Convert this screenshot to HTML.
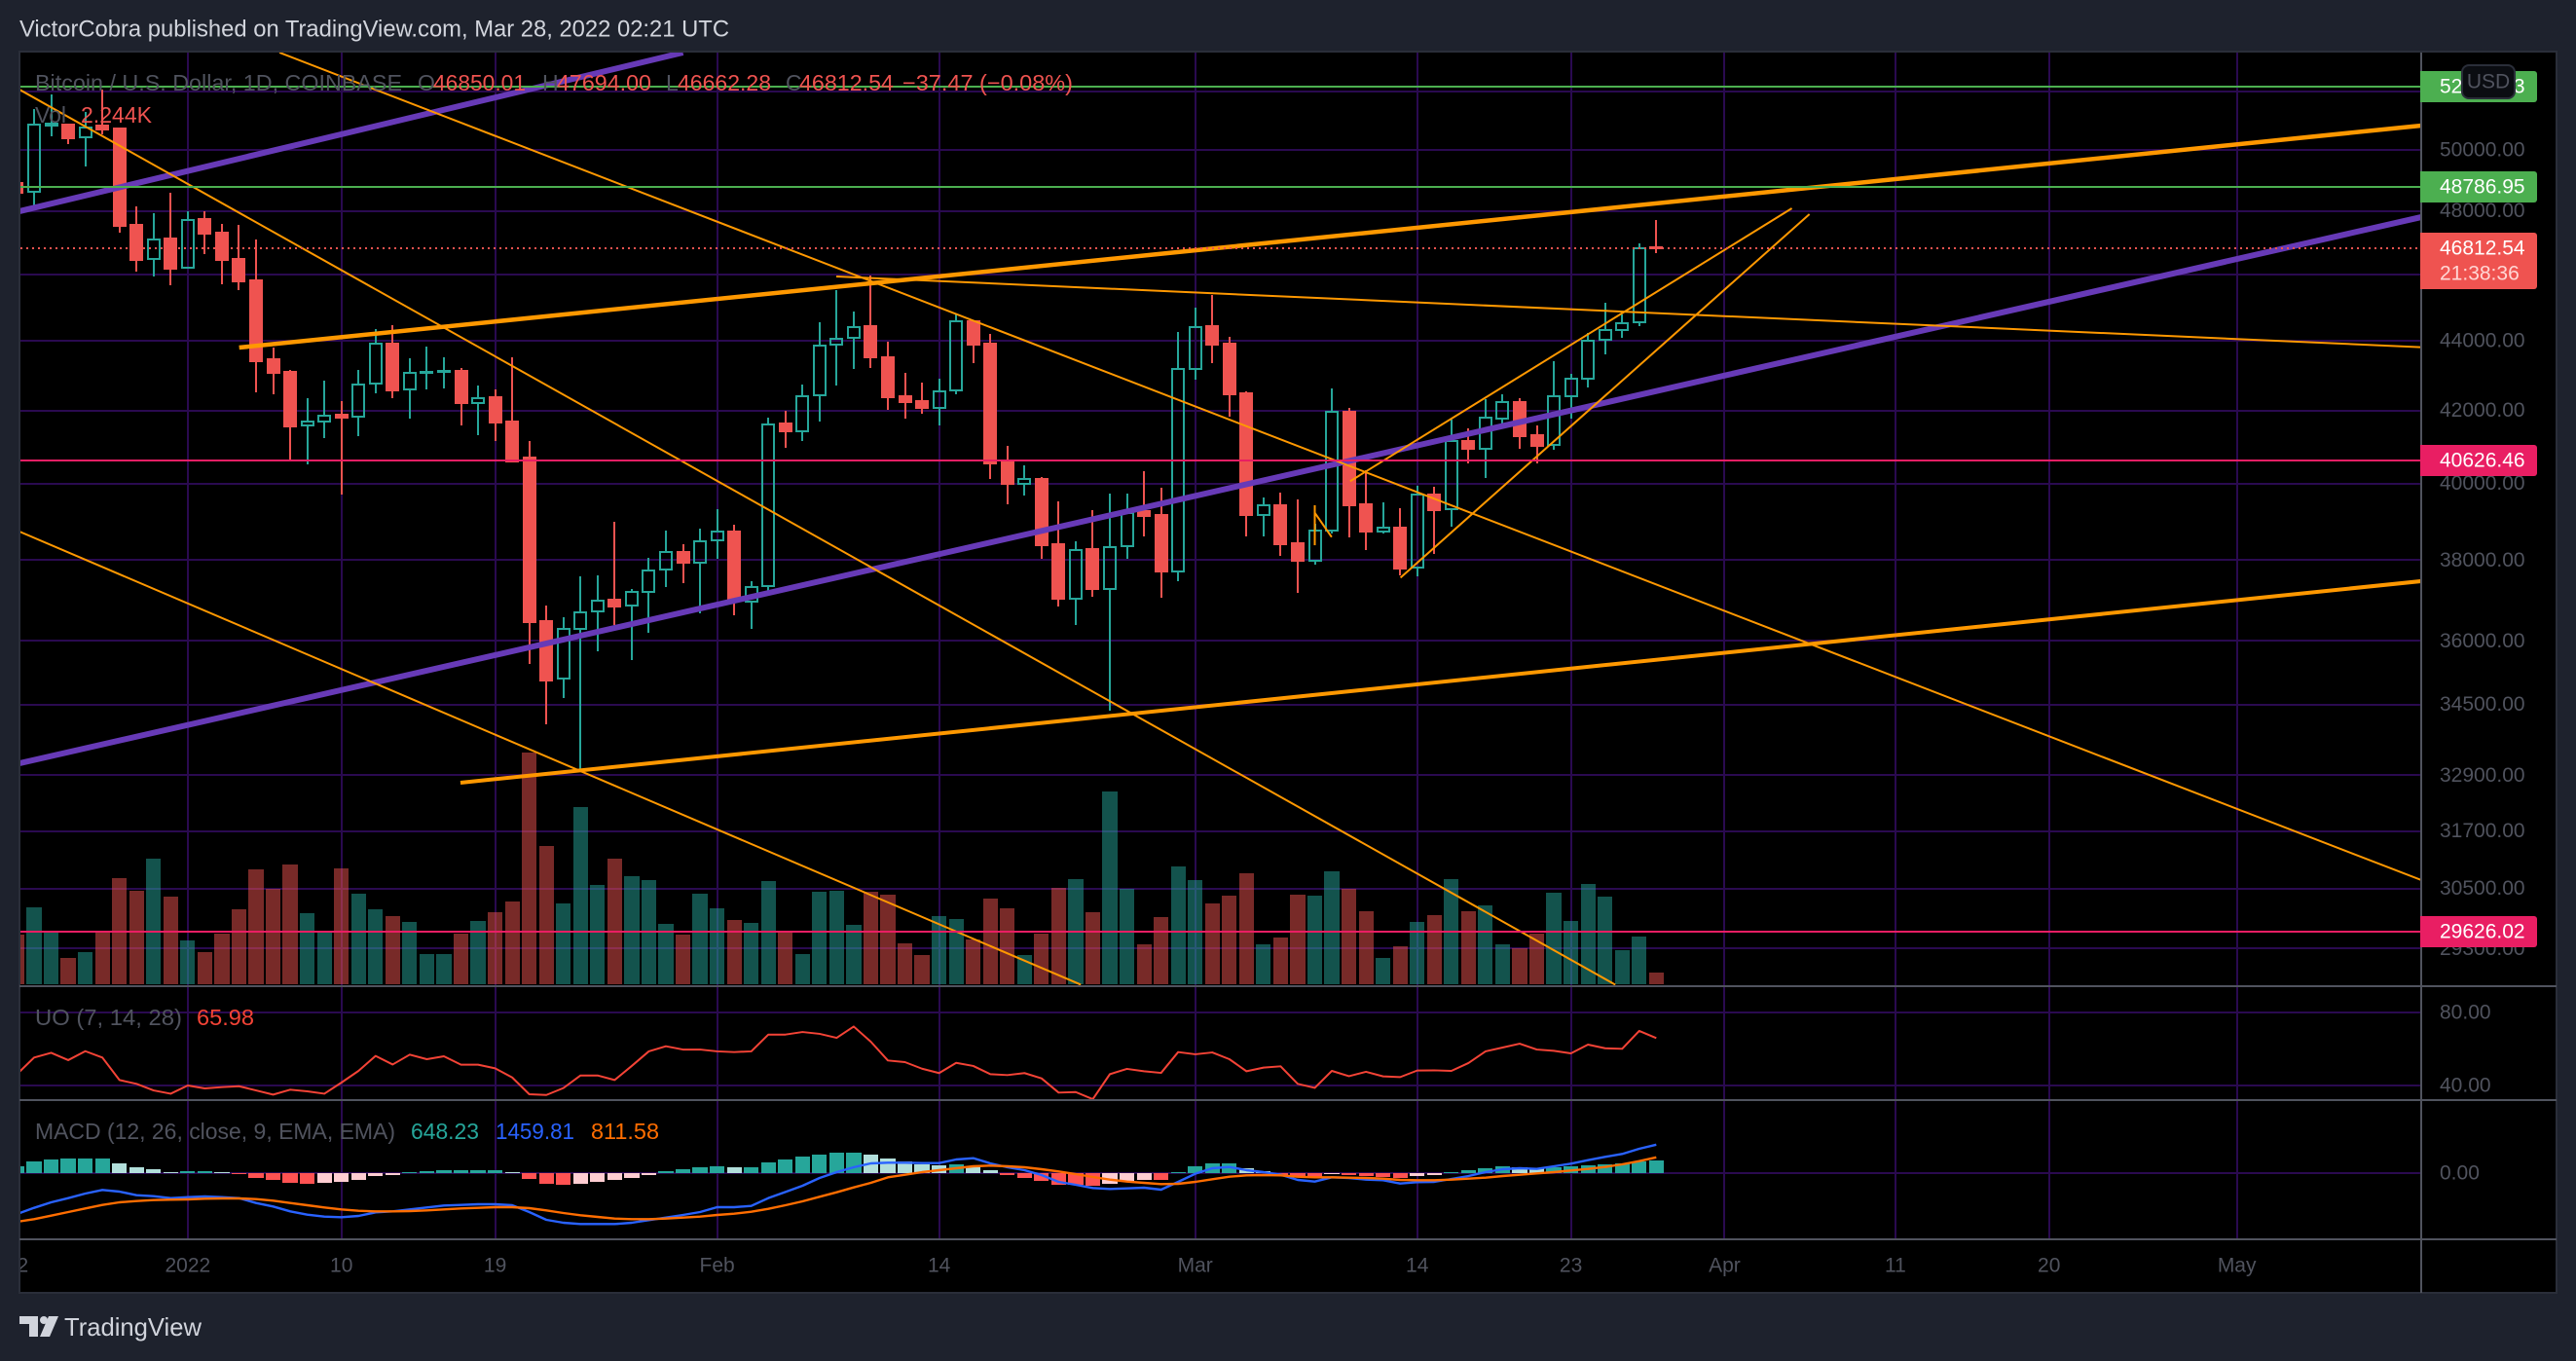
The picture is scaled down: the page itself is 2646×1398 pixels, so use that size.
<!DOCTYPE html>
<html lang="en">
<head>
<meta charset="utf-8">
<title>BTC/USD chart</title>
<style>
html,body{margin:0;padding:0;background:#1e222d;width:2646px;height:1398px;overflow:hidden}
svg{display:block}
text{font-family:"Liberation Sans",sans-serif;dominant-baseline:central}
.tick{font-size:21px;fill:#50535e}
.leg{font-size:23px;fill:#50535e}
</style>
</head>
<body>
<svg id="chart" xmlns="http://www.w3.org/2000/svg" width="2646" height="1398" viewBox="0 0 2646 1398">
  <defs>
    <clipPath id="main-clip"><rect x="21" y="54" width="2465" height="958"></rect></clipPath>
    <clipPath id="uo-clip"><rect x="21" y="1014" width="2465" height="115"></rect></clipPath>
    <clipPath id="macd-clip"><rect x="21" y="1131" width="2465" height="141"></rect></clipPath>
    <clipPath id="time-clip"><rect x="21" y="1274" width="2465" height="54"></rect></clipPath>
  </defs>
  <rect x="0" y="0" width="2646" height="1398" fill="#1e222d"></rect>
  <text x="20" y="30" font-size="24" fill="#d1d4dc" textLength="729" lengthAdjust="spacingAndGlyphs">VictorCobra published on TradingView.com, Mar 28, 2022 02:21 UTC</text>
  <rect x="20" y="53" width="2606" height="1275" fill="#000" stroke="#2a2e39" stroke-width="2"></rect>
  <g id="grid"></g>
  <g id="volume" clip-path="url(#main-clip)"></g>
  <g id="candles" clip-path="url(#main-clip)"></g>
  <g id="drawings" clip-path="url(#main-clip)"></g>
  <g id="uo" clip-path="url(#uo-clip)"></g>
  <g id="macd" clip-path="url(#macd-clip)"></g>
  <g id="separators">
    <rect x="20" y="1012" width="2606" height="2" fill="#50535e"></rect>
    <rect x="20" y="1129" width="2606" height="2" fill="#50535e"></rect>
    <rect x="20" y="1272" width="2606" height="2" fill="#50535e"></rect>
    <rect x="2486" y="54" width="2" height="1274" fill="#50535e"></rect>
  </g>
  <g id="axis-labels"></g>
  <g id="price-tags"></g>
  <g>
    <rect x="2529" y="67" width="54" height="34" rx="7" fill="#0b0d12" stroke="#2a2e39" stroke-width="2"></rect>
    <text x="2556" y="84" font-size="21" fill="#50535e" text-anchor="middle">USD</text>
  </g>
  <g>
    <text class="leg" x="36" y="85" textLength="377" lengthAdjust="spacingAndGlyphs">Bitcoin / U.S. Dollar, 1D, COINBASE</text>
    <text class="leg" x="429" y="85">O</text>
    <text class="leg" x="445" y="85" style="fill:#ef5350" textLength="95" lengthAdjust="spacingAndGlyphs">46850.01</text>
    <text class="leg" x="557" y="85">H</text>
    <text class="leg" x="572" y="85" style="fill:#ef5350" textLength="97" lengthAdjust="spacingAndGlyphs">47694.00</text>
    <text class="leg" x="684" y="85">L</text>
    <text class="leg" x="696" y="85" style="fill:#ef5350" textLength="96" lengthAdjust="spacingAndGlyphs">46662.28</text>
    <text class="leg" x="807" y="85">C</text>
    <text class="leg" x="821" y="85" style="fill:#ef5350" textLength="97" lengthAdjust="spacingAndGlyphs">46812.54</text>
    <text class="leg" x="927" y="85" style="fill:#ef5350" textLength="175" lengthAdjust="spacingAndGlyphs">−37.47 (−0.08%)</text>
    <text class="leg" x="36" y="118">Vol</text>
    <text class="leg" x="83" y="118" style="fill:#ef5350" textLength="73" lengthAdjust="spacingAndGlyphs">2.244K</text>
  </g>
  <g>
    <text class="leg" x="36" y="1045" textLength="151" lengthAdjust="spacingAndGlyphs">UO (7, 14, 28)</text>
    <text class="leg" x="202" y="1045" style="fill:#f44336" textLength="59" lengthAdjust="spacingAndGlyphs">65.98</text>
  </g>
  <g>
    <text class="leg" x="36" y="1162" textLength="370" lengthAdjust="spacingAndGlyphs">MACD (12, 26, close, 9, EMA, EMA)</text>
    <text class="leg" x="422" y="1162" style="fill:#26a69a" textLength="70" lengthAdjust="spacingAndGlyphs">648.23</text>
    <text class="leg" x="509" y="1162" style="fill:#2962ff" textLength="81" lengthAdjust="spacingAndGlyphs">1459.81</text>
    <text class="leg" x="607" y="1162" style="fill:#ff6d00" textLength="70" lengthAdjust="spacingAndGlyphs">811.58</text>
  </g>
  <g>
    <polygon points="20,1352 39,1352 39,1373 30,1373 30,1360 20,1360" fill="#d1d4dc"></polygon>
    <circle cx="45" cy="1356" r="4" fill="#d1d4dc"></circle>
    <polygon points="50,1352 60,1352 51,1373 41,1373" fill="#d1d4dc"></polygon>
    <text x="66" y="1363" font-size="26" fill="#d1d4dc" textLength="141" lengthAdjust="spacingAndGlyphs">TradingView</text>
  </g>
</svg>
<script>
// Bars run from Dec 22 2021 (cut by the left edge) to Mar 28 2022, one per day.
const opens = [48900,
48620,50830,50860,50430,50830,50730,47560,46490,47130,46220,
47750,47310,46490,45830,43470,43110,41590,41700,41890,41830,
42770,43920,42600,43080,43110,43130,42210,42380,41700,40700,
36480,35110,36290,36720,37010,36870,37200,37760,38210,37940,
38510,38730,36960,37340,41640,41420,42430,43890,44100,44450,
43530,42400,42270,42080,42570,44590,43920,40570,39990,40120,
38410,37030,38280,37270,38360,39270,39170,37710,43190,44450,
43920,42490,39170,39420,38430,37990,38760,41970,39450,38730,
38840,37810,39700,39320,41150,40940,41780,42240,41320,41050,
42400,42910,44040,44330,44560,46850.01];
const highs = [48950,
51390,51900,50860,51270,52060,50730,48150,47930,48590,47990,
47990,47590,47560,47100,43810,43160,42350,42850,42270,43160,
44360,44470,43500,43840,43530,43220,42710,42600,43530,41150,
36870,36580,37590,37620,38990,37270,38060,38760,38410,38810,
39320,38910,37470,41810,42000,42740,44560,45530,44880,45980,
43980,43080,42800,42910,44790,44590,44210,41020,40490,40170,
39530,38480,39300,39730,39730,40330,39880,44270,45000,45380,
44120,42540,39630,39760,39580,38940,42630,42080,40360,39500,
39350,39940,39910,41750,41510,42320,42460,42350,41590,43410,
43050,44240,45140,44790,46970,47694.00];
const lows = [48500,
48090,50460,50200,49460,50530,47310,46100,45950,45680,46220,
46640,45710,45530,42520,42460,40620,40520,41230,39700,41290,
42490,42350,41780,42600,42630,41590,41320,41150,40570,35450,
34050,34650,33040,35750,36390,35550,36200,37320,37420,36670,
38040,36630,36290,37130,40960,41150,41700,42710,43190,43220,
42020,41780,41910,41590,42460,43360,40120,39450,39680,38040,
36840,36390,37080,34360,38040,38610,37060,37470,42880,43360,
41830,38610,38610,38110,37180,37890,38680,38580,38260,38680,
37620,37590,38160,38860,40540,40150,41640,40940,40540,40910,
41780,42660,43610,44100,44450,46662.28];
const closes = [48590,
50860,50890,50400,50760,50700,47530,46460,47100,46190,47720,
47280,46460,45800,43410,43080,41560,41700,41860,41810,42740,
43920,42570,43080,43110,43130,42210,42350,41670,40600,36460,
35060,36290,36700,36980,36840,37200,37740,38210,37940,38480,
38730,37030,37320,41610,41420,42400,43860,44070,44420,43530,
42380,42240,42080,42540,44590,43890,40540,39990,40120,38380,
37030,38260,37270,38330,39220,39140,37710,43190,44420,43890,
42460,39170,39420,38410,37990,38760,41970,39420,38730,38840,
37790,39700,39300,41150,40940,41810,42240,41290,41020,42400,
42910,44010,44330,44530,46820,46812.54];
const volumes = [9.6,
14.8,10.1,5.1,6.2,10.1,20.4,18.0,24.2,16.8,8.4,
6.2,9.7,14.4,22.1,18.4,23.0,13.7,10.0,22.3,17.4,
14.4,13.1,12.0,5.8,5.8,9.7,12.2,13.8,15.9,44.5,
26.5,15.5,34.1,19.1,24.2,20.7,20.0,11.6,9.5,17.4,
14.6,12.4,11.8,19.8,10.0,5.8,17.8,18.0,11.4,17.8,
17.2,7.9,5.6,13.1,12.5,8.6,16.4,14.6,5.6,9.7,
18.5,20.2,13.8,37.0,18.3,7.7,12.9,22.6,20.0,15.5,
17.0,21.3,7.7,9.0,17.2,17.0,21.7,18.3,14.0,5.0,
7.3,12.0,13.3,20.2,14.0,15.1,7.7,6.9,9.7,17.6,
12.1,19.3,16.8,6.5,9.2,2.244];
const uoValues = [46.2,
55.3,57.9,53.9,58.8,55.3,43.0,40.9,37.3,35.5,40.0,
38.4,39.1,39.6,37.3,35.0,37.7,36.8,35.5,41.6,48.0,
56.2,51.5,56.9,54.4,56.0,51.4,51.4,49.4,44.4,35.2,
34.8,38.6,45.5,45.5,43.0,50.7,58.7,61.5,59.7,59.7,
58.7,58.3,58.7,67.9,67.9,69.3,68.3,66.1,72.3,64.0,
53.7,52.8,49.2,46.8,52.4,50.7,46.2,45.7,46.8,43.9,
36.1,36.4,32.5,46.2,49.1,47.8,46.9,58.3,57.1,58.1,
54.4,47.8,49.8,50.5,40.9,38.7,48.0,45.1,47.5,45.0,
44.6,48.2,48.3,48.0,52.3,58.7,60.8,62.9,59.7,59.0,
57.6,62.4,60.4,60.1,69.9,65.98];
const macdLine = [-2100,
-1784,-1500,-1284,-1050,-867,-950,-1134,-1184,-1284,-1234,
-1200,-1234,-1284,-1534,-1717,-1967,-2134,-2234,-2267,-2200,
-2017,-1967,-1867,-1767,-1667,-1634,-1600,-1600,-1650,-2000,
-2400,-2550,-2617,-2617,-2617,-2550,-2417,-2284,-2150,-2000,
-1750,-1750,-1684,-1284,-967,-650,-250,50,300,500,
533,533,517,517,700,767,500,300,150,-100,
-450,-600,-767,-817,-784,-750,-850,-450,-33,250,
317,150,50,-83,-350,-433,-217,-250,-333,-367,
-533,-467,-450,-300,-150,50,200,250,217,350,
483,667,833,983,1250,1459.81];
const signalLine = [-2500,
-2367,-2184,-2000,-1817,-1634,-1500,-1434,-1384,-1367,-1350,
-1317,-1300,-1300,-1334,-1417,-1534,-1650,-1767,-1867,-1934,
-1967,-1967,-1950,-1917,-1867,-1817,-1784,-1750,-1750,-1800,
-1917,-2050,-2167,-2250,-2334,-2367,-2367,-2334,-2284,-2234,
-2150,-2084,-1984,-1834,-1650,-1450,-1217,-984,-734,-500,
-217,-83,50,150,250,350,383,350,300,200,
83,-50,-200,-333,-433,-500,-567,-550,-450,-317,
-183,-117,-100,-117,-183,-217,-217,-233,-250,-283,
-350,-367,-367,-333,-283,-233,-150,-83,-17,50,
133,217,317,450,617,811.58];
const macdHist = [333,
600,700,750,750,750,500,300,200,50,100,
100,50,-50,-250,-350,-500,-550,-500,-450,-350,
-150,-100,50,100,150,150,150,150,50,-300,
-550,-600,-550,-450,-350,-250,-100,100,200,300,
350,300,300,550,700,850,950,1050,1050,950,
750,600,450,400,450,300,150,-100,-250,-400,
-600,-600,-650,-550,-400,-350,-350,50,350,500,
500,250,100,-100,-150,-200,-50,-100,-150,-200,
-250,-150,-100,50,150,250,350,300,250,300,
350,400,450,500,600,648.23];

const priceGrid = [52000,50000,48000,46000,44000,42000,40000,38000,36000,34500,32900,31700,30500,29300];
const priceLabels = ['52000.00','50000.00','48000.00','46000.00','44000.00','42000.00','40000.00','38000.00','36000.00','34500.00','32900.00','31700.00','30500.00','29300.00'];
const uoTicks = [80,40];
const uoLabels = ['80.00','40.00'];
const macdTicks = [0];
const macdLabels = ['0.00'];
const timeBars = [-1,9,18,27,40,53,68,81,90,99,109,118,129];
const timeLabels = ['22','2022','10','19','Feb','14','Mar','14','23','Apr','11','20','May'];

// Trend lines: start bar, start price, end bar, end price.
const trendLineNames = ['purple-channel-upper','purple-channel-main','orange-support-upper','orange-support-lower','orange-downtrend-a','orange-downtrend-b','orange-downtrend-c','orange-flat','orange-wedge-upper','orange-wedge-lower','orange-small-diagonal','orange-small-vertical'];
const trendStartBar = [-0.855,-0.855,12.01,24.97,-0.855,14.37,-0.855,46.98,77.07,80.02,75,75];
const trendStartPrice = [47990,33168,43806,32739,52061,53366,38731,45940,40058,37555,39221,39419];
const trendEndBar = [38,139.8,139.8,139.8,92.6,139.8,61.3,139.8,102.94,103.97,75.99,75];
const trendEndPrice = [53366,47802,50821,37467,28600,30674,28600,43815,48083,47896,38588,38378];
const trendColor = ['#673ab7','#673ab7','#ff9800','#ff9800','#ff9800','#ff9800','#ff9800','#ff9800','#ff9800','#ff9800','#ff9800','#ff9800'];
const trendThick = [6,6,4.5,4,2,2,2,2,2,2,2,2];

const levelPrices = [52163.13,48786.95,40626.46,29626.02];
const levelLabels = ['52163.13','48786.95','40626.46','29626.02'];
const levelColors = ['#4caf50','#4caf50','#e91e63','#e91e63'];
const lastPrice = 46812.54;
const lastPriceLabel = '46812.54';
const countdownLabel = '21:38:36';

const NS = 'http://www.w3.org/2000/svg';
const UP = '#26a69a', DOWN = '#ef5350', GRID = '#2a0a50';
const barX = i => 35 + 17.54 * i;
const priceY = p => 154 + 1535 * Math.log(50000 / p);
const volY = v => 1011 - v / 0.187;
const uoY = v => 1040 + (80 - v) * 1.875;
const macdY = v => 1205 - v / 50;

function make(parent, tag, attrs, text) {
  const node = document.createElementNS(NS, tag);
  for (const k in attrs) node.setAttribute(k, attrs[k]);
  if (text !== undefined) node.textContent = text;
  parent.appendChild(node);
  return node;
}
const g = id => document.getElementById(id);
const snap = Math.round;
let el;

// Grid
priceGrid.forEach(p => {
  el = make(g('grid'), 'rect', {x: 21, y: snap(priceY(p)) - 1, width: 2465, height: 2, fill: GRID});
  
  
});
uoTicks.forEach(v => {
  el = make(g('grid'), 'rect', {x: 21, y: snap(uoY(v)) - 1, width: 2465, height: 2, fill: GRID});
  
  
});
macdTicks.forEach(v => {
  el = make(g('grid'), 'rect', {x: 21, y: snap(macdY(v)) - 1, width: 2465, height: 2, fill: GRID});
  
  
});
timeBars.forEach(b => {
  if (barX(b) < 21) return;
  el = make(g('grid'), 'rect', {x: snap(barX(b)) - 1, y: 54, width: 2, height: 1218, fill: GRID});
  
  
});

// Volume and candles (array index 0 is bar -1)
closes.forEach((c, k) => {
  const i = k - 1, fx = barX(i), x = snap(fx), up = c >= opens[k];
  const vLeft = snap(fx - 7.6), vRight = snap(fx + 7.6), vTop = snap(volY(volumes[k]));
  el = make(g('volume'), 'rect', {x: vLeft, y: vTop, width: vRight - vLeft, height: 1011 - vTop, fill: up ? UP : DOWN, 'fill-opacity': 0.5});
  
  

  const top = snap(priceY(Math.max(opens[k], c))), bot = snap(priceY(Math.min(opens[k], c)));
  const hi = snap(priceY(highs[k])), lo = snap(priceY(lows[k]));
  const col = up ? UP : DOWN;
  el = make(g('candles'), 'rect', {x: x - 1, y: hi, width: 2, height: Math.max(0, top - hi), fill: col});
  
  
  el = make(g('candles'), 'rect', {x: x - 1, y: bot, width: 2, height: Math.max(0, lo - bot), fill: col});
  
  
  if (up) {
    el = make(g('candles'), 'rect', {x: x - 6, y: top, width: 12, height: Math.max(bot - top, 1), fill: 'none', stroke: col, 'stroke-width': 2});
  } else {
    el = make(g('candles'), 'rect', {x: x - 7, y: top - 1, width: 14, height: Math.max(bot - top + 2, 2), fill: col});
  }
  
  
});

// Trend lines and horizontal levels
trendLineNames.forEach((name, t) => {
  el = make(g('drawings'), 'line', {
    x1: barX(trendStartBar[t]), y1: priceY(trendStartPrice[t]),
    x2: barX(trendEndBar[t]), y2: priceY(trendEndPrice[t]),
    stroke: trendColor[t], 'stroke-width': trendThick[t]});
  
  
});
levelPrices.forEach((p, t) => {
  el = make(g('drawings'), 'rect', {x: 21, y: snap(priceY(p)) - 1, width: 2465, height: 2, fill: levelColors[t]});
  
  
});
el = make(g('drawings'), 'line', {x1: 21, x2: 2486, y1: snap(priceY(lastPrice)), y2: snap(priceY(lastPrice)), stroke: DOWN, 'stroke-width': 2, 'stroke-dasharray': '2 4'});



// Ultimate oscillator
el = make(g('uo'), 'polyline', {points: uoValues.map((v, k) => barX(k - 1) + ',' + uoY(v)).join(' '), fill: 'none', stroke: '#f44336', 'stroke-width': 2, 'stroke-linejoin': 'round'});



// MACD
macdHist.forEach((v, k) => {
  const prev = k ? macdHist[k - 1] : v;
  const col = v >= 0 ? (v >= prev ? '#26a69a' : '#b2dfdb') : (v <= prev ? '#ff5252' : '#ffcdd2');
  const y0 = macdY(0), y1 = snap(macdY(v)), fx = barX(k - 1);
  const left = snap(fx - 7.6), right = snap(fx + 7.6);
  el = make(g('macd'), 'rect', {x: left, y: Math.min(y0, y1), width: right - left, height: Math.abs(y1 - y0), fill: col});
  
  
});
el = make(g('macd'), 'polyline', {points: macdLine.map((v, k) => barX(k - 1) + ',' + macdY(v)).join(' '), fill: 'none', stroke: '#2962ff', 'stroke-width': 2.4, 'stroke-linejoin': 'round'});


el = make(g('macd'), 'polyline', {points: signalLine.map((v, k) => barX(k - 1) + ',' + macdY(v)).join(' '), fill: 'none', stroke: '#ff6d00', 'stroke-width': 2.4, 'stroke-linejoin': 'round'});



// Axis labels
priceGrid.forEach((p, t) => {
  el = make(g('axis-labels'), 'text', {class: 'tick', x: 2506, y: priceY(p)}, priceLabels[t]);
  
  
});
uoTicks.forEach((v, t) => {
  el = make(g('axis-labels'), 'text', {class: 'tick', x: 2506, y: uoY(v)}, uoLabels[t]);
  
  
});
macdTicks.forEach((v, t) => {
  el = make(g('axis-labels'), 'text', {class: 'tick', x: 2506, y: macdY(v)}, macdLabels[t]);
  
  
});
timeBars.forEach((b, t) => {
  el = make(g('axis-labels'), 'text', {class: 'tick', x: barX(b), y: 1300, 'text-anchor': 'middle', 'clip-path': 'url(#time-clip)'}, timeLabels[t]);
  
  
});

// Price tags
levelPrices.forEach((p, t) => {
  const y = snap(priceY(p)), h = 32;
  el = make(g('price-tags'), 'path', {d: 'M2486 ' + (y - h / 2) + 'h117a3 3 0 0 1 3 3v' + (h - 6) + 'a3 3 0 0 1 -3 3h-117z', fill: levelColors[t]});
  
  
  el = make(g('price-tags'), 'text', {x: 2506, y: y, 'font-size': 21, fill: '#fff'}, levelLabels[t]);
  
  
});
const lastY = snap(priceY(lastPrice));
el = make(g('price-tags'), 'path', {d: 'M2486 ' + (lastY - 16) + 'h117a3 3 0 0 1 3 3v52a3 3 0 0 1 -3 3h-117z', fill: DOWN});


el = make(g('price-tags'), 'text', {x: 2506, y: lastY, 'font-size': 21, fill: '#fff'}, lastPriceLabel);


el = make(g('price-tags'), 'text', {x: 2506, y: lastY + 26, 'font-size': 21, fill: '#ffd6d4'}, countdownLabel);


</script>
</body>
</html>
